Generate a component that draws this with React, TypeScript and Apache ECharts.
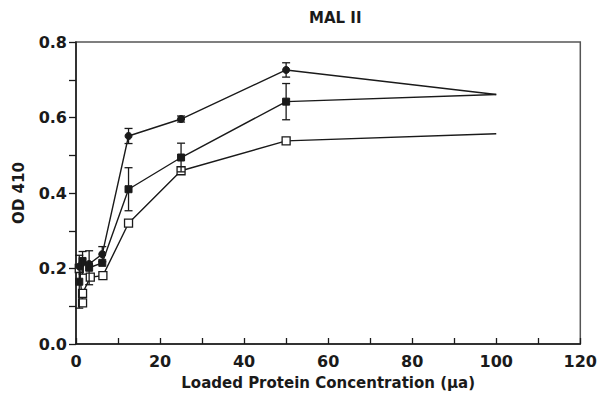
import React, { useEffect, useRef } from "react";
import * as echarts from "echarts";

const titleText = "MAL II";
const xAxisName = "Loaded Protein Concentration (\u03bca)";
const yAxisName = "OD 410";

// Series with filled circles
const xA = [0.78, 1.56, 3.125, 6.25, 12.5, 25, 50, 100];
const yA = [0.205, 0.215, 0.212, 0.238, 0.551, 0.596, 0.726, 0.661];
const eA = [0, 0.03, 0, 0.02, 0.02, 0.008, 0.019, 0];

// Series with filled squares
const xB = [0.78, 1.56, 3.125, 6.25, 12.5, 25, 50, 100];
const yB = [0.165, 0.22, 0.202, 0.215, 0.41, 0.494, 0.642, 0.661];
const eB = [0.07, 0, 0.045, 0, 0.057, 0.038, 0.048, 0];

// Series with open squares
const xC = [0.78, 1.56, 1.56, 3.4, 6.4, 12.5, 25, 50, 100];
const yC = [0.2, 0.109, 0.134, 0.177, 0.181, 0.32, 0.459, 0.538, 0.557];

const FONT = "DejaVu Sans";
const INK = "#1a1a1a";

function pairs(xs: number[], ys: number[], lastBare: boolean) {
  return xs.map((x, i) =>
    lastBare && i === xs.length - 1 ? { value: [x, ys[i]], symbol: "none" } : [x, ys[i]]
  );
}

function errData(xs: number[], ys: number[], es: number[]) {
  return xs
    .map((x, i) => [x, ys[i], es[i]])
    .filter((d) => d[2] > 0);
}

const errRender = (params: any, api: any) => {
  const x = api.value(0);
  const y = api.value(1);
  const e = api.value(2);
  const top = api.coord([x, y + e]);
  const bot = api.coord([x, y - e]);
  const hw = 4;
  const style = { stroke: INK, lineWidth: 1.3 };
  return {
    type: "group",
    children: [
      { type: "line", shape: { x1: top[0], y1: top[1], x2: bot[0], y2: bot[1] }, style },
      { type: "line", shape: { x1: top[0] - hw, y1: top[1], x2: top[0] + hw, y2: top[1] }, style },
      { type: "line", shape: { x1: bot[0] - hw, y1: bot[1], x2: bot[0] + hw, y2: bot[1] }, style },
    ],
  };
};

export default function App() {
  const ref = useRef<HTMLDivElement>(null);
  useEffect(() => {
    if (!ref.current) return;
    const chart = echarts.init(ref.current, null, { renderer: "svg" });
    chart.setOption({
      animation: false,
      backgroundColor: "#ffffff",
      title: {
        text: titleText,
        left: 304,
        top: 5,
        textStyle: { fontFamily: FONT, fontWeight: "bold", fontSize: 15, color: INK },
      },
      grid: {
        left: 76,
        right: 19,
        top: 42,
        bottom: 52,
        show: true,
        borderColor: "#555",
        borderWidth: 1.5,
        backgroundColor: "transparent",
      },
      xAxis: {
        type: "value",
        min: 0,
        max: 120,
        interval: 10,
        name: xAxisName,
        nameLocation: "middle",
        nameGap: 31,
        nameTextStyle: { fontFamily: FONT, fontWeight: "bold", fontSize: 15, color: INK },
        axisLine: { show: true, lineStyle: { color: INK, width: 1.5 } },
        axisTick: { show: true, inside: true, length: 6, lineStyle: { color: INK, width: 1.3 } },
        axisLabel: {
          fontFamily: FONT,
          fontWeight: "bold",
          fontSize: 16,
          color: INK,
          margin: 9,
          formatter: (v: number) => (Math.round(v) % 20 === 0 ? String(Math.round(v)) : ""),
        },
        splitLine: { show: false },
      },
      yAxis: {
        type: "value",
        min: 0,
        max: 0.8,
        interval: 0.1,
        name: yAxisName,
        nameLocation: "middle",
        nameGap: 50,
        nameRotate: 90,
        nameTextStyle: { fontFamily: FONT, fontWeight: "bold", fontSize: 15, color: INK },
        axisLine: { show: true, lineStyle: { color: INK, width: 1.5 } },
        axisTick: { show: true, inside: false, length: 7, lineStyle: { color: INK, width: 1.3 } },
        axisLabel: {
          fontFamily: FONT,
          fontWeight: "bold",
          fontSize: 16,
          color: INK,
          margin: 9,
          formatter: (v: number) => {
            const k = Math.round(v * 10);
            return k % 2 === 0 ? (k / 10).toFixed(1) : "";
          },
        },
        splitLine: { show: false },
      },
      series: [
        {
          type: "line",
          data: pairs(xC, yC, true),
          symbol: "rect",
          symbolSize: 8,
          showAllSymbol: true,
          lineStyle: { color: INK, width: 1.4 },
          itemStyle: { color: "#ffffff", borderColor: INK, borderWidth: 1.3 },
          z: 3,
        },
        {
          type: "line",
          data: pairs(xB, yB, true),
          symbol: "rect",
          symbolSize: 7,
          showAllSymbol: true,
          lineStyle: { color: INK, width: 1.4 },
          itemStyle: { color: INK, borderColor: INK },
          z: 4,
        },
        {
          type: "line",
          data: pairs(xA, yA, true),
          symbol: "circle",
          symbolSize: 7,
          showAllSymbol: true,
          lineStyle: { color: INK, width: 1.4 },
          itemStyle: { color: INK, borderColor: INK },
          z: 5,
        },
        {
          type: "custom",
          renderItem: errRender,
          data: errData(xA, yA, eA),
          z: 6,
        },
        {
          type: "custom",
          renderItem: errRender,
          data: errData(xB, yB, eB),
          z: 6,
        },
      ],
    });
    return () => chart.dispose();
  }, []);
  return (
    <div
      ref={ref}
      style={{ position: "absolute", left: 0, top: 0, width: 600, height: 396 }}
    />
  );
}
